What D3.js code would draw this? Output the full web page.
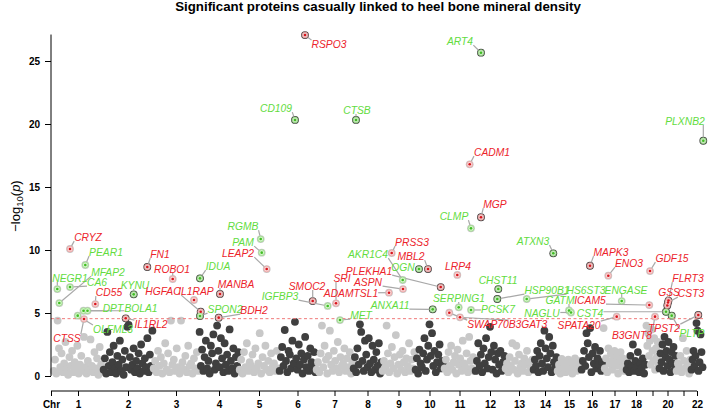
<!DOCTYPE html>
<html>
<head>
<meta charset="utf-8">
<script src="https://cdn.jsdelivr.net/npm/d3@7"></script>
<style>
  body { margin: 0; background: #fff; }
  svg { display: block; font-family: "Liberation Sans", Arial, sans-serif; }
  .tick text { font-weight: bold; font-size: 10px; fill: #000; }
  .tick line { stroke: #000; }
  .lab { font-style: italic; font-size: 10.3px; }
</style>
</head>
<body>
<svg id="plot" width="708" height="410"></svg>
<script>
// relative chromosome lengths (plot units), chromosomes 1..22
var chrLen = [50, 50, 46, 40, 40, 37, 37, 29, 33, 29, 31, 30, 28, 24, 24, 22, 23, 20, 13, 17, 15, 12];
var chrNames = ["1","2","3","4","5","6","7","8","9","10","11","12","13","14","15","16","17","18","19","20","21","22"];
var threshold = 4.55;

// -log10(p) of the background proteins, in order along each chromosome
var chr1 = [0.4,1.3,0.2,4.4,2.2,0.7,1.8,0.3,1.0,2.7,0.5,0.1,1.5,0.8,2.0,0.3,1.1,0.6,2.4,0.2,0.9,1.6,0.4,3.1,0.7,0.2,1.2,0.5,2.9,0.8,0.3,1.9,0.6,1.4,0.1,2.3,0.9,0.4];
var chr2 = [0.5,1.4,0.2,3.5,0.8,1.9,0.3,1.1,2.4,0.6,0.2,1.6,0.9,2.8,0.4,1.3,0.1,2.0,0.7,3.9,4.05,1.5,0.5,0.9,2.2,0.3,1.2,0.6,1.8,0.2,2.5,1.0,0.4,1.4,0.7,3.0,0.3,1.7,0.8,3.6];
var chr3 = [0.6,1.2,0.3,2.0,0.8,1.5,0.2,1.0,2.6,0.5,1.8,0.3,4.4,0.9,1.3,0.4,2.2,0.7,0.2,4.4,1.1,0.5,1.6,0.3,2.4,0.8,1.0,0.2,1.4,0.6,1.9,0.4];
var chr4 = [3.5,0.8,2.1,0.4,1.5,2.8,0.6,1.2,0.2,2.4,1.8,3.3,0.5,1.0,4.0,2.0,0.7,3.0,1.4,0.3,2.6,0.9,1.7,0.4,3.7,1.2,0.6,2.2,0.2,1.5,0.8,1.9];
var chr5 = [0.5,1.3,0.2,1.9,0.7,2.6,0.4,1.1,0.8,1.7,0.3,2.2,0.6,1.0,3.4,0.2,1.5,0.8,2.4,0.5,1.2,0.3,1.8,0.7,1.0,0.4,2.0,0.6];
var chr6 = [0.4,1.5,2.3,0.8,3.65,1.2,0.3,2.0,1.7,0.6,2.8,1.0,4.3,1.4,0.5,2.5,0.9,1.8,0.2,1.3,3.1,0.7,1.6,0.4,2.2,1.1,0.6,1.9,0.3];
var chr7 = [0.5,1.1,0.3,1.8,4.0,0.7,2.4,1.3,0.2,1.6,3.6,0.9,0.4,2.0,1.2,0.6,2.7,0.3,1.5,0.8,1.0,2.2,0.4,1.4,0.7,1.9,0.2,1.1];
var chr8 = [0.6,1.5,0.3,2.2,0.9,4.1,3.5,1.2,0.4,2.8,1.7,0.7,3.0,1.0,0.3,2.4,1.3,0.5,1.9,0.8,2.6,0.2,1.1];
var chr9 = [0.4,1.2,0.7,4.0,1.8,0.3,1.0,2.3,0.6,1.5,3.25,0.2,0.9,1.7,0.5,2.0,1.1,0.3,1.4,0.8,2.6,0.4,1.3,0.6,1.9];
var chr10 = [0.5,1.4,0.2,2.1,1.0,0.7,1.8,3.0,0.4,1.3,2.4,4.1,1.6,3.4,0.8,2.0,0.3,1.1,1.7,2.5,0.6,1.2,0.9];
var chr11 = [0.6,1.3,0.3,1.9,0.8,2.4,0.5,1.1,1.6,0.2,2.1,0.9,1.4,0.4,2.8,1.0,0.7,1.8,0.3,3.1,1.2,0.6,1.5,0.4];
var chr12 = [0.4,1.2,2.6,0.8,1.7,0.3,2.2,1.0,3.0,0.6,1.5,3.9,1.9,0.5,2.4,1.3,0.2,1.8,0.9,2.0,0.4,1.1,1.6];
var chr13 = [0.6,1.0,0.3,1.5,0.8,2.6,0.5,1.2,2.4,0.2,1.7,0.7,1.0,0.4,1.4,0.9,2.0,0.3,1.1,0.6,1.3];
var chr14 = [0.5,1.3,0.8,2.0,0.3,1.6,2.6,1.0,0.4,3.6,2.2,1.4,0.7,3.1,1.8,0.3,2.4,1.1,0.6,1.5];
var chr15 = [0.4,0.9,0.2,1.35,0.6,1.0,0.3,0.8,1.3,0.5,1.1,0.2,0.7,1.4,0.4,0.9,0.6,1.2];
var chr16 = [0.5,1.2,2.0,0.8,3.4,2.6,1.5,3.8,0.3,1.8,1.0,2.3,0.6,1.4,0.9,2.0,0.4,1.1];
var chr17 = [3.8,0.6,1.4,0.3,2.2,1.0,1.8,0.5,1.3,2.0,0.8,1.6,0.2,1.1,1.9,0.7,1.4,0.4,1.0];
var chr18 = [0.5,1.0,0.3,1.6,0.8,2.5,0.4,1.2,0.7,1.9,0.3,1.0,0.6,1.4,0.2,0.9];
var chr19 = [4.0,2.4,3.4,1.6,2.8,0.9,3.7,2.0,1.2,3.0,0.5,2.2,1.5,2.7,0.8];
var chr20 = [0.6,1.8,1.1,2.5,0.4,3.1,1.5,2.0,0.8,2.7,1.3,0.3,1.9,1.0,2.3,0.5,1.6];
var chr21 = [0.4,1.0,0.7,1.6,0.3,3.0,1.2,0.6,2.0,0.9,0.2,1.3];
var chr22 = [0.5,1.3,2.0,0.8,1.6,4.2,3.6,0.4,1.1,3.3,1.9,0.7];
var background = [chr1,chr2,chr3,chr4,chr5,chr6,chr7,chr8,chr9,chr10,chr11,chr12,chr13,chr14,chr15,chr16,chr17,chr18,chr19,chr20,chr21,chr22];

// significant proteins
var hitNames = ["CRYZ","PEAR1","NEGR1","CA6","MFAP2","CD55","DPT","BOLA1","OLFML3","CTSS",
  "FN1","KYNU","IL1RL2","ROBO1","IL1RAP","HGFAC","IDUA","SPON2","MANBA","BDH2",
  "RGMB","PAM","LEAP2","RSPO3","CD109","SMOC2","IGFBP3","SRI","MET","CTSB",
  "ADAMTSL1","PRSS3","AKR1C4","ASPN","PLEKHA1","OGN","MBL2","ANXA11","ART4","CADM1",
  "MGP","CLMP","LRP4","SERPING1","PCSK7","SWAP70","B3GAT3","CHST11","HSP90B1","HS6ST3",
  "ATXN3","GATM","NAGLU","CST4","ICAM5","ENGASE","SPATA20","MAPK3","ENO3","GDF15",
  "FLRT3","GSS","CST3","B3GNT8","TPST2","PLTP","PLXNB2"];
var hitChr = [1,1,1,1,1,1,1,1,1,1,
  2,2,2,3,3,4,4,4,4,4,
  5,5,5,6,6,6,7,7,7,8,
  9,9,9,9,10,10,10,10,12,11,
  12,11,11,11,11,11,11,12,12,13,
  14,15,15,20,19,17,17,16,17,19,
  20,20,20,19,22,20,22];
var hitPos = [17,32.3,4.3,17,6.3,42.3,30.5,34.5,24.7,31,
  44.3,30.7,22.7,19.7,41,1.7,1,1,21,19.7,
  21.7,22.7,27.7,26,16,33.7,11.7,20,24,3,
  7,9.7,20.7,21,25.7,4,13,17.7,6,25.7,
  6,27,13.3,14.7,27,5.3,16,23.3,22.3,21.7,
  20.3,12,14,7,3.3,18.7,13.7,9,5.3,4,
  9.5,8.3,9,9,7.3,12.7,12.3];
var hitLogP = [10.08,8.81,6.90,7.06,5.79,5.71,5.18,5.18,4.79,4.52,
  8.65,6.48,4.58,7.70,6.03,5.10,7.75,4.76,6.51,4.63,
  10.87,9.79,8.49,27.06,20.32,5.95,5.56,5.77,4.44,20.32,
  6.61,9.76,7.62,6.90,7.06,8.49,8.49,5.29,25.66,16.80,
  12.60,11.72,8.02,5.45,5.24,5.02,4.66,6.90,6.11,6.11,
  9.74,5.20,5.04,5.10,5.63,5.95,4.71,8.75,7.96,8.33,
  5.99,5.60,5.83,4.71,4.84,4.79,18.67];
var hitEffect = ["up","down","down","down","down","up","down","down","down","up",
  "up","down","up","up","up","up","down","down","up","up",
  "down","down","up","up","down","up","down","up","down","down",
  "up","up","down","up","up","down","up","down","down","up",
  "up","down","up","down","down","up","up","down","down","down",
  "down","down","down","down","up","down","up","up","up","up",
  "up","up","up","up","up","down","down"];

// label placement (pixel centres), like a repel layout
var labelAt = {
  CRYZ:[88,237], PEAR1:[106,252], NEGR1:[70,278], CA6:[97,282], MFAP2:[108,272], CD55:[109,292],
  DPT:[113,308], BOLA1:[141,308], OLFML3:[113,329], CTSS:[67,338], FN1:[160,254], KYNU:[135,285],
  IL1RL2:[151,324], ROBO1:[172,269], IL1RAP:[196,291], HGFAC:[163,291], IDUA:[218,266], SPON2:[225,309],
  MANBA:[236,284], BDH2:[254,310], RGMB:[243,226], PAM:[243,242], LEAP2:[238,253], RSPO3:[329,44],
  CD109:[276,108], SMOC2:[307,286], IGFBP3:[280,296], SRI:[342,278], MET:[361,315], CTSB:[357,110],
  ADAMTSL1:[351,293], PRSS3:[412,242], AKR1C4:[368,254], ASPN:[368,282], PLEKHA1:[369,271],
  OGN:[403,267], MBL2:[411,256], ANXA11:[390,305], ART4:[460,41], CADM1:[492,152], MGP:[495,204],
  CLMP:[454,216], LRP4:[458,266], SERPING1:[459,298], PCSK7:[498,309], SWAP70:[488,324],
  B3GAT3:[528,324], CHST11:[498,280], HSP90B1:[547,290], HS6ST3:[586,290], ATXN3:[533,241],
  GATM:[560,300], NAGLU:[542,313], CST4:[590,313], ICAM5:[590,300], ENGASE:[626,290],
  SPATA20:[579,325], MAPK3:[611,252], ENO3:[629,263], GDF15:[672,258], FLRT3:[688,278],
  GSS:[669,292], CST3:[691,293], B3GNT8:[632,335], TPST2:[664,328], PLTP:[692,333], PLXNB2:[685,121]
};

var colLight = "#c8c8c8", colDark = "#3f3f3f";
var colRed = "#ec232b", colGreen = "#62dc3e";

var chrStart = [];
var acc = 0;
for (var i = 0; i < chrLen.length; i++) { chrStart.push(acc); acc += chrLen[i]; }
var total = acc;

var svg = d3.select("#plot");
var x = d3.scaleLinear().domain([-2, total]).range([51, 703]);
var y = d3.scaleLinear().domain([0, 25]).range([376, 61]);

// background points
var pts = [];
background.forEach(function(vals, c) {
  vals.forEach(function(v, i) {
    pts.push({ g: chrStart[c] + (i + 0.5) / vals.length * chrLen[c], v: v, c: c });
  });
});
var hits = hitNames.map(function(n, i) {
  return { name: n, c: hitChr[i] - 1, g: chrStart[hitChr[i] - 1] + hitPos[i], v: hitLogP[i], eff: hitEffect[i] };
});

svg.append("g").selectAll("circle").data(pts.concat(hits)).enter().append("circle")
  .attr("cx", function(d) { return x(d.g); })
  .attr("cy", function(d) { return y(d.v); })
  .attr("r", 3.9)
  .attr("fill", function(d) { return d.c % 2 === 0 ? colLight : colDark; });

// threshold
svg.append("line")
  .attr("x1", x(-2)).attr("x2", 703)
  .attr("y1", y(threshold)).attr("y2", y(threshold))
  .attr("stroke", "#f07a7a").attr("stroke-width", 1)
  .attr("stroke-dasharray", "3,2.5");

// labels first (to measure), then leaders under them
var gLead = svg.append("g");
var gMark = svg.append("g");
var gLab = svg.append("g");

var labs = gLab.selectAll("text").data(hits).enter().append("text")
  .attr("class", "lab")
  .attr("x", function(d) { return labelAt[d.name][0]; })
  .attr("y", function(d) { return labelAt[d.name][1]; })
  .attr("text-anchor", "middle")
  .attr("dy", "0.35em")
  .attr("fill", function(d) { return d.eff === "up" ? colRed : colGreen; })
  .text(function(d) { return d.name; });

labs.each(function(d) {
  var b = this.getBBox();
  var px = x(d.g), py = y(d.v);
  var bx0 = b.x, bx1 = b.x + b.width, by0 = b.y + 1.5, by1 = b.y + b.height - 1.5;
  var tx = Math.max(bx0, Math.min(px, bx1));
  var ty = Math.max(by0, Math.min(py, by1));
  var dx = tx - px, dy = ty - py;
  var len = Math.sqrt(dx * dx + dy * dy);
  if (len < 5) return;
  var sx = px + dx / len * 3.5, sy = py + dy / len * 3.5;
  gLead.append("line")
    .attr("x1", sx).attr("y1", sy).attr("x2", tx).attr("y2", ty)
    .attr("stroke", "#a8a8a8").attr("stroke-width", 1.2);
});

// highlight markers
gMark.selectAll("circle.ring").data(hits).enter().append("circle")
  .attr("cx", function(d) { return x(d.g); })
  .attr("cy", function(d) { return y(d.v); })
  .attr("r", 2.9)
  .attr("fill", function(d) { return d.eff === "up" ? "#fbd9d9" : "#d9f7cf"; })
  .attr("fill-opacity", 0.9)
  .attr("stroke", function(d) { return d.eff === "up" ? "#f39a9a" : "#8fe07a"; })
  .attr("stroke-width", 0.7);
gMark.selectAll("circle.dot").data(hits).enter().append("circle")
  .attr("cx", function(d) { return x(d.g); })
  .attr("cy", function(d) { return y(d.v); })
  .attr("r", 1.3)
  .attr("fill", function(d) { return d.eff === "up" ? "#d8141c" : "#3fbf22"; });

// y axis
var yAxis = d3.axisLeft(y).tickValues([0, 5, 10, 15, 20, 25]).tickSize(6).tickPadding(5);
var gy = svg.append("g").attr("transform", "translate(51,0)").call(yAxis);
gy.select(".domain").remove();
gy.append("line").attr("x1", 0).attr("x2", 0).attr("y1", y(0)).attr("y2", y(27.1)).attr("stroke", "#000");

// x axis
var mids = chrLen.map(function(l, i) { return chrStart[i] + l / 2; });
var xTicks = [-2].concat(mids);
var xLabels = ["Chr"].concat(chrNames.map(function(n) { return (n === "19" || n === "21") ? "" : n; }));
var xAxis = d3.axisBottom(x).tickValues(xTicks).tickSize(5).tickPadding(5)
  .tickFormat(function(d, i) { return xLabels[i]; });
var gx = svg.append("g").attr("transform", "translate(0,391)").call(xAxis);
gx.select(".domain").remove();
gx.append("line").attr("x1", x(-2)).attr("x2", x(mids[21])).attr("y1", 0).attr("y2", 0).attr("stroke", "#000");

// y label
var yl = svg.append("text")
  .attr("transform", "translate(20,206) rotate(-90)")
  .attr("text-anchor", "middle")
  .style("font-size", "13px");
yl.append("tspan").text("\u2212log");
yl.append("tspan").attr("dy", 3).style("font-size", "9.5px").text("10");
yl.append("tspan").attr("dy", -3).text("(");
yl.append("tspan").style("font-style", "italic").text("p");
yl.append("tspan").text(")");

// title
svg.append("text")
  .attr("x", 378).attr("y", 11)
  .attr("text-anchor", "middle")
  .style("font-weight", "bold").style("font-size", "13.3px")
  .text("Significant proteins casually linked to heel bone mineral density");
</script>
</body>
</html>
